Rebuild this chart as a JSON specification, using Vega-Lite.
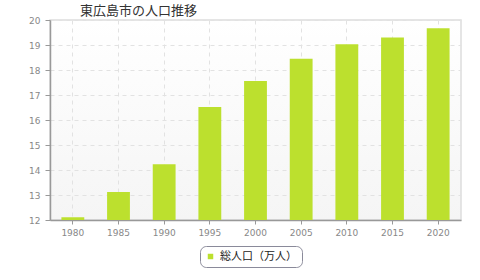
{
  "$schema": "https://vega.github.io/schema/vega-lite/v6.json",
  "width": 411,
  "height": 200,
  "autosize": {"type": "none"},
  "padding": {"left": 50, "top": 20, "right": 19, "bottom": 60},
  "background": "#ffffff",
  "title": {
    "text": "東広島市の人口推移",
    "anchor": "start",
    "frame": "group",
    "dx": 30,
    "dy": 5,
    "offset": 3,
    "font": "Noto Sans CJK JP",
    "fontSize": 13,
    "fontWeight": "normal",
    "color": "#333333"
  },
  "data": {
    "values": [
      {"year": "1980", "pop": 12.11, "series": "総人口（万人）"},
      {"year": "1985", "pop": 13.12, "series": "総人口（万人）"},
      {"year": "1990", "pop": 14.23, "series": "総人口（万人）"},
      {"year": "1995", "pop": 16.52, "series": "総人口（万人）"},
      {"year": "2000", "pop": 17.56, "series": "総人口（万人）"},
      {"year": "2005", "pop": 18.45, "series": "総人口（万人）"},
      {"year": "2010", "pop": 19.03, "series": "総人口（万人）"},
      {"year": "2015", "pop": 19.3, "series": "総人口（万人）"},
      {"year": "2020", "pop": 19.67, "series": "総人口（万人）"}
    ]
  },
  "mark": {"type": "bar", "clip": true},
  "encoding": {
    "x": {
      "field": "year",
      "type": "nominal",
      "sort": null,
      "scale": {"paddingInner": 0.5, "paddingOuter": 0.25},
      "axis": {
        "title": null,
        "labelAngle": 0,
        "bandPosition": 0.5,
        "grid": true,
        "gridColor": "#e2e2e2",
        "gridDash": [4, 4],
        "domainColor": "#999999",
        "domainWidth": 1.5,
        "tickColor": "#999999",
        "tickSize": 4,
        "labelPadding": 4,
        "labelColor": "#888888",
        "labelFont": "DejaVu Sans",
        "labelFontSize": 9
      }
    },
    "y": {
      "field": "pop",
      "type": "quantitative",
      "scale": {"domain": [12, 20], "zero": false, "nice": false},
      "axis": {
        "title": null,
        "values": [12, 13, 14, 15, 16, 17, 18, 19, 20],
        "grid": true,
        "gridColor": "#e2e2e2",
        "gridDash": [4, 4],
        "domainColor": "#999999",
        "domainWidth": 1.5,
        "tickColor": "#999999",
        "tickSize": 5,
        "labelPadding": 5,
        "labelColor": "#888888",
        "labelFont": "DejaVu Sans",
        "labelFontSize": 9
      }
    },
    "color": {
      "field": "series",
      "type": "nominal",
      "scale": {"range": ["#bce02e"]},
      "legend": {
        "title": null,
        "orient": "none",
        "legendX": 150,
        "legendY": 226,
        "direction": "horizontal",
        "padding": 5,
        "fillColor": "#ffffff",
        "strokeColor": "#8a8a9a",
        "cornerRadius": 6,
        "symbolType": "square",
        "symbolSize": 30,
        "symbolStrokeWidth": 0,
        "labelFont": "Noto Sans CJK JP",
        "labelFontSize": 11,
        "labelColor": "#222222"
      }
    }
  },
  "config": {
    "view": {
      "stroke": "#dddddd",
      "strokeWidth": 1.5,
      "fill": {
        "gradient": "linear",
        "x1": 0, "y1": 0, "x2": 0, "y2": 1,
        "stops": [
          {"offset": 0, "color": "#ffffff"},
          {"offset": 1, "color": "#f5f5f5"}
        ]
      }
    }
  }
}
